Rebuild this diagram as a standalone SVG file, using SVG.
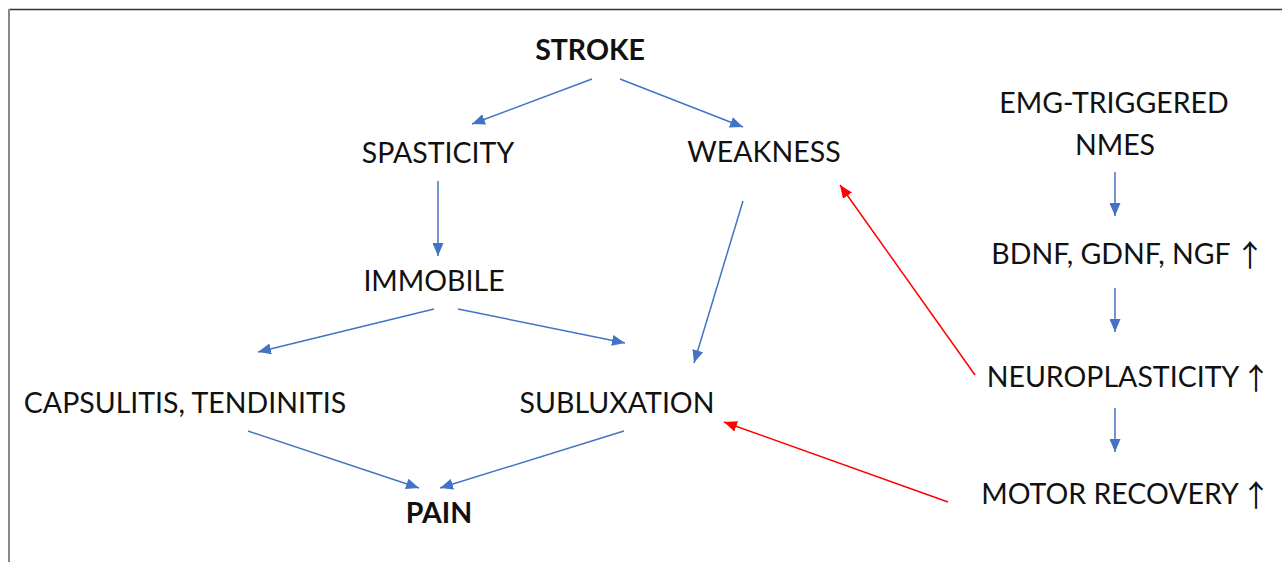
<svg xmlns="http://www.w3.org/2000/svg" width="1287" height="562" viewBox="0 0 1287 562">
<style>
.t{font-family:Lato,"Liberation Sans",sans-serif;font-size:28.5px;fill:#111;text-anchor:middle}
.b{font-weight:bold}
.blue{stroke:#4472C4;stroke-width:1.5;fill:none;marker-end:url(#ab)}
.red{stroke:#FF0000;stroke-width:1.5;fill:none;marker-end:url(#ar)}
.up{font-family:"Noto Sans CJK SC","DejaVu Sans",sans-serif;font-size:30px}
</style>
<defs>
<marker id="ab" markerUnits="userSpaceOnUse" markerWidth="13" markerHeight="11" refX="13" refY="5.5" orient="auto"><path d="M0,0 L13,5.5 L0,11 z" fill="#4472C4"/></marker>
<marker id="ar" markerUnits="userSpaceOnUse" markerWidth="13" markerHeight="11" refX="13" refY="5.5" orient="auto"><path d="M0,0 L13,5.5 L0,11 z" fill="#FF0000"/></marker>
</defs>
<rect width="1287" height="562" fill="#fff"/>
<line x1="9" y1="9.5" x2="1282" y2="9.5" stroke="#333" stroke-width="1.5"/>
<line x1="9" y1="9" x2="9" y2="562" stroke="#888" stroke-width="2"/>
<g id="connectors">
<line class="blue" x1="592" y1="79" x2="472" y2="124"/>
<line class="blue" x1="620" y1="79" x2="743" y2="127"/>
<line class="blue" x1="438" y1="181" x2="438" y2="256"/>
<line class="blue" x1="743" y1="201" x2="694" y2="363"/>
<line class="blue" x1="434" y1="309" x2="258" y2="352"/>
<line class="blue" x1="458" y1="309" x2="625" y2="343"/>
<line class="blue" x1="248" y1="431" x2="419" y2="488"/>
<line class="blue" x1="624" y1="431" x2="440" y2="488"/>
<line class="blue" x1="1115" y1="172" x2="1115" y2="216"/>
<line class="blue" x1="1115" y1="288" x2="1115" y2="332"/>
<line class="blue" x1="1115" y1="408" x2="1115" y2="452"/>
<line class="red" x1="975" y1="375" x2="840" y2="185"/>
<line class="red" x1="948" y1="502" x2="724" y2="422"/>
</g>
<g id="stroke"><text class="t b" x="590" y="60">STROKE</text></g>
<g id="spasticity"><text class="t" x="438" y="163">SPASTICITY</text></g>
<g id="weakness"><text class="t" x="764" y="162">WEAKNESS</text></g>
<g id="immobile"><text class="t" x="434" y="291">IMMOBILE</text></g>
<g id="capsulitis"><text class="t" x="185" y="413">CAPSULITIS, TENDINITIS</text></g>
<g id="subluxation"><text class="t" x="617" y="413">SUBLUXATION</text></g>
<g id="pain"><text class="t b" x="439" y="523">PAIN</text></g>
<g id="emg"><text class="t" x="1114" y="113">EMG-TRIGGERED</text><text class="t" x="1115" y="155">NMES</text></g>
<g id="bdnf"><text class="t" x="1111" y="264">BDNF, GDNF, NGF</text><text class="t up" x="1250" y="266">↑</text></g>
<g id="neuro"><text class="t" x="1113" y="387">NEUROPLASTICITY</text><text class="t up" x="1256" y="389">↑</text></g>
<g id="motor"><text class="t" x="1110" y="504">MOTOR RECOVERY</text><text class="t up" x="1256" y="506">↑</text></g>
</svg>
